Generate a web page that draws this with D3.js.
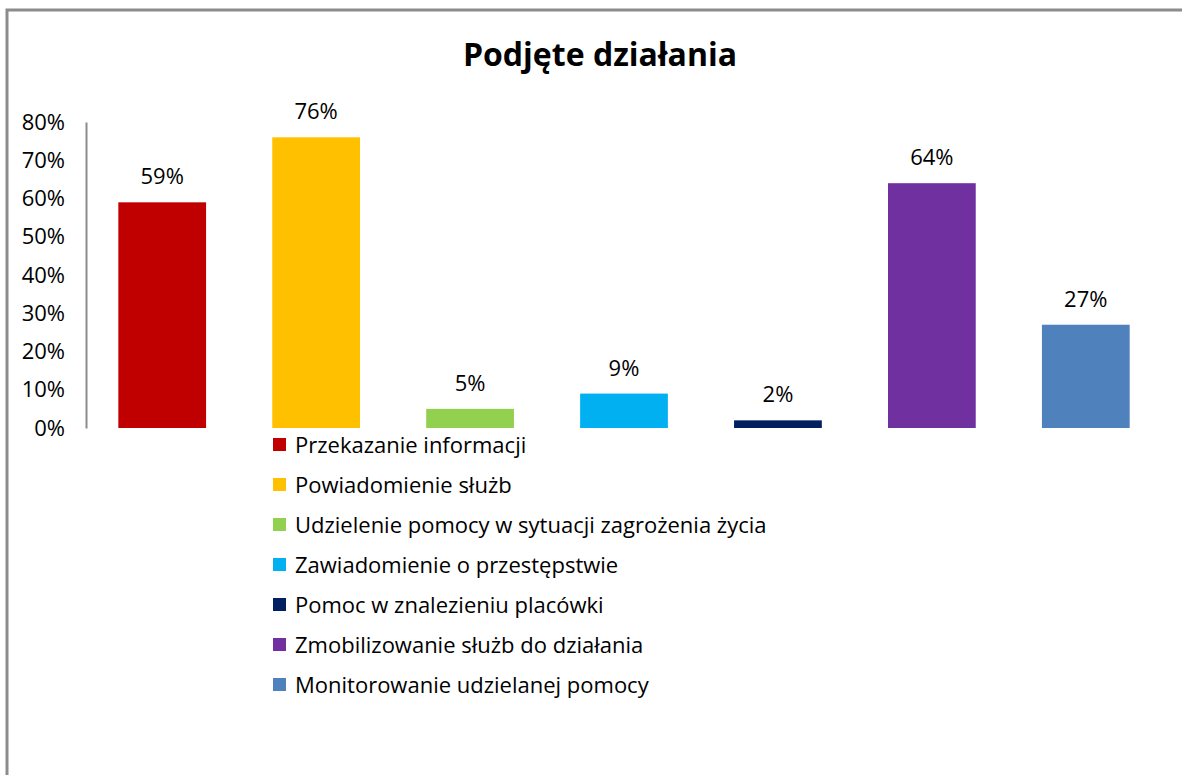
<!DOCTYPE html>
<meta charset="utf-8">
<script src="https://d3js.org/d3.v7.min.js"></script>
<style>
  body { margin: 0; background: #fff; }
  text { font-family: "Open Sans", sans-serif; fill: #000; }
</style>
<div id="chart"></div>
<script>
// chart data
var categories = [
  "Przekazanie informacji",
  "Powiadomienie służb",
  "Udzielenie pomocy w sytuacji zagrożenia życia",
  "Zawiadomienie o przestępstwie",
  "Pomoc w znalezieniu placówki",
  "Zmobilizowanie służb do działania",
  "Monitorowanie udzielanej pomocy"
];
var values = [59, 76, 5, 9, 2, 64, 27];
var colors = ["#C00000", "#FFC000", "#92D050", "#00B0F0", "#002060", "#7030A0", "#4F81BD"];
var yTicks = [0, 10, 20, 30, 40, 50, 60, 70, 80];

var W = 1182, H = 775;
var svg = d3.select("#chart").append("svg")
  .attr("width", W)
  .attr("height", H);

// outer frame (only left and top edges are visible in the crop)
svg.append("path")
  .attr("d", "M7,775 V10 H1182")
  .attr("fill", "none")
  .attr("stroke", "#8c8c8c")
  .attr("stroke-width", 3);

// title
svg.append("text")
  .attr("x", 600)
  .attr("y", 66)
  .attr("text-anchor", "middle")
  .style("font-size", "32px")
  .style("font-weight", "bold")
  .text("Podjęte działania");

// scales
var x = d3.scaleBand()
  .domain(categories)
  .range([86, 1162])
  .paddingInner(0.43)
  .paddingOuter(0.21);

var y = d3.scaleLinear()
  .domain([0, 80])
  .range([428, 122]);

// y axis
var yAxis = svg.append("g")
  .attr("transform", "translate(86,0)")
  .call(d3.axisLeft(y).tickValues(yTicks).tickSize(0).tickPadding(21)
    .tickFormat(function(d) { return d + "%"; }));
yAxis.select(".domain").attr("stroke", "#8c8c8c").attr("stroke-width", 2);
yAxis.selectAll("text")
  .style("font-size", "22px")
  .style("font-family", "'Open Sans', sans-serif");

// bars
svg.append("g")
  .selectAll("rect")
  .data(values)
  .enter().append("rect")
  .attr("x", function(d, i) { return x(categories[i]); })
  .attr("y", function(d) { return y(d); })
  .attr("width", x.bandwidth())
  .attr("height", function(d) { return y(0) - y(d); })
  .attr("fill", function(d, i) { return colors[i]; });

// value labels
svg.append("g")
  .selectAll("text")
  .data(values)
  .enter().append("text")
  .attr("x", function(d, i) { return x(categories[i]) + x.bandwidth() / 2; })
  .attr("y", function(d) { return y(d) - 18; })
  .attr("text-anchor", "middle")
  .style("font-size", "22px")
  .text(function(d) { return d + "%"; });

// legend
var legend = svg.append("g")
  .selectAll("g")
  .data(categories)
  .enter().append("g")
  .attr("transform", function(d, i) { return "translate(273," + (438 + i * 40) + ")"; });

legend.append("rect")
  .attr("width", 13)
  .attr("height", 13)
  .attr("fill", function(d, i) { return colors[i]; });

legend.append("text")
  .attr("x", 22)
  .attr("y", 15)
  .style("font-size", "22px")
  .text(function(d) { return d; });
</script>
